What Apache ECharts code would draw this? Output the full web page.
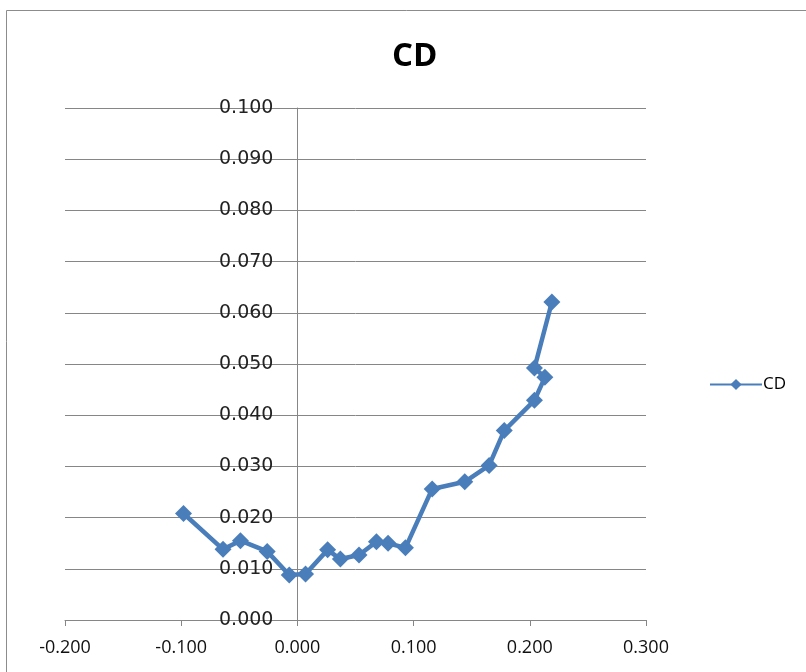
<!DOCTYPE html>
<html>
<head>
<meta charset="utf-8">
<script src="https://cdn.jsdelivr.net/npm/echarts@6/dist/echarts.min.js"></script>
<style>html,body{margin:0;padding:0;background:#fff;}#main{width:806px;height:672px;}</style>
</head>
<body>
<div id="main"></div>
<script>
const seriesName = 'CD';
const xValues = [-0.098, -0.064, -0.049, -0.026, -0.007, 0.007, 0.026, 0.037, 0.053, 0.068, 0.078, 0.093, 0.116, 0.144, 0.165, 0.178, 0.204, 0.213, 0.204, 0.219];
const yValues = [0.0208, 0.0138, 0.0155, 0.0134, 0.0088, 0.0090, 0.0137, 0.0119, 0.0127, 0.0153, 0.0150, 0.0141, 0.0256, 0.0270, 0.0302, 0.0370, 0.0429, 0.0474, 0.0492, 0.0621];
const xTicks = [-0.2, -0.1, 0.0, 0.1, 0.2, 0.3];
const yTicks = [0, 0.01, 0.02, 0.03, 0.04, 0.05, 0.06, 0.07, 0.08, 0.09, 0.1];

const W = 806, gridLeft = 65, gridRight = 160;
const gridWidth = W - gridLeft - gridRight;
const xMin = xTicks[0], xMax = xTicks[xTicks.length - 1];
// place the y axis where x = 0 crosses (Excel style)
const yAxisOffset = -((0 - xMin) / (xMax - xMin)) * gridWidth;

const chart = echarts.init(document.getElementById('main'));
const data = xValues.map((x, i) => [x, yValues[i]]);
chart.setOption({
  animation: false,
  backgroundColor: '#fff',
  graphic: [{
    type: 'rect', left: 4, top: 8, shape: { width: 801, height: 700 },
    style: { fill: 'none', stroke: '#8c8c8c', lineWidth: 1 }, silent: true
  }],
  title: {
    text: 'CD', left: 387, top: 35,
    textStyle: { fontFamily: 'Open Sans', fontWeight: 'bold', fontSize: 33, color: '#000' }
  },
  legend: {
    data: [seriesName], left: 704, top: 371, itemWidth: 52, itemHeight: 14, itemGap: 4,
    textStyle: { fontFamily: 'Open Sans', fontSize: 17, color: '#000', padding: [0, 0, 0, -4] }
  },
  grid: { left: gridLeft, right: gridRight, top: 108, bottom: 52, containLabel: false, outerBoundsMode: 'none' },
  xAxis: {
    type: 'value', min: xMin, max: xMax, interval: 0.1,
    axisLine: { show: true, onZero: true, lineStyle: { color: '#868686', width: 1 } },
    axisTick: { show: true, inside: false, length: 6, lineStyle: { color: '#868686' } },
    splitLine: { show: false },
    axisLabel: { margin: 19, fontFamily: 'Open Sans', fontSize: 18, color: '#111',
      formatter: v => v.toFixed(3) }
  },
  yAxis: {
    type: 'value', min: yTicks[0], max: yTicks[yTicks.length - 1], interval: 0.01,
    position: 'left', offset: yAxisOffset,
    axisLine: { show: true, onZero: false, lineStyle: { color: '#868686', width: 1 } },
    axisTick: { show: false },
    splitLine: { show: true, lineStyle: { color: '#868686', width: 1 } },
    axisLabel: { margin: 24, fontFamily: 'DejaVu Sans', fontSize: 19, color: '#222',
      formatter: v => v.toFixed(3) }
  },
  series: [{
    name: seriesName, type: 'line', data: data,
    symbol: 'diamond', symbolSize: 17,
    lineStyle: { color: '#4a7ebb', width: 4.5 },
    itemStyle: { color: '#4a7ebb' }
  }]
});
</script>
</body>
</html>
